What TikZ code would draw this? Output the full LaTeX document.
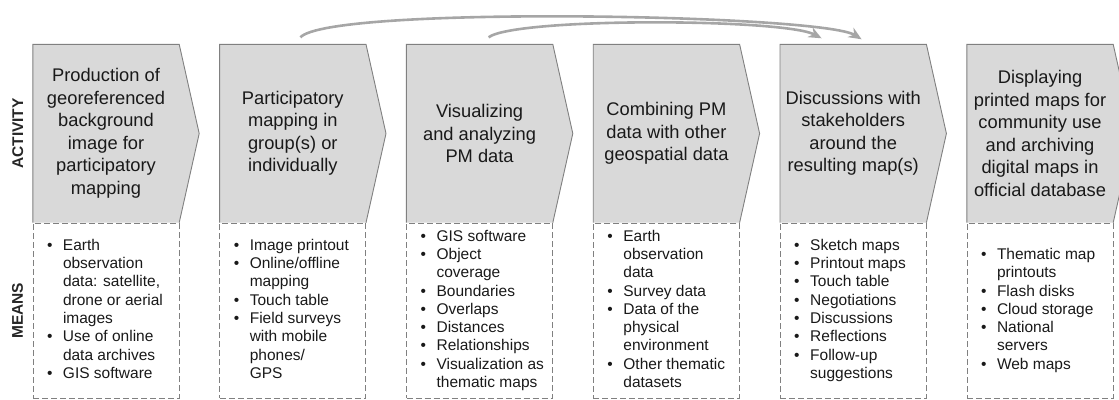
\documentclass[tikz,border=0pt]{standalone}
\usepackage{fontspec}
\setmainfont{Liberation Sans}
\usetikzlibrary{positioning,arrows.meta}

\pgfdeclarelayer{background}
\pgfsetlayers{background,main}

\definecolor{boxgray}{HTML}{D9D9D9}
\definecolor{edgegray}{HTML}{808080}
\definecolor{linkgray}{HTML}{A6A6A6}

\newcommand{\bul}{\textbullet &}
\newcommand{\meanslist}[1]{\begin{tabular}{@{\hspace{14pt}}p{16pt}@{}p{116pt}@{}}#1\end{tabular}}

\begin{document}
\begin{tikzpicture}[x=1pt, y=-1pt,
    actbox/.style={minimum width=146pt, minimum height=178pt, inner sep=0pt,
        align=center, font=\fontsize{18.3}{22.5}\selectfont, text=black!90},
    actshape/.style={draw=edgegray, fill=boxgray, line width=0.9pt},
    meansbox/.style={draw=edgegray, dash pattern=on 6pt off 3pt, line width=0.9pt,
        minimum width=146pt, minimum height=175pt, inner sep=0pt,
        font=\fontsize{15.5}{18.3}\selectfont, text=black!90},
    sidelabel/.style={rotate=90, inner sep=0pt,
        font=\fontsize{15.5}{18}\selectfont\bfseries, text=black!85},
    backlink/.style={draw=linkgray, line width=2.6pt,
        -{Stealth[length=13pt,width=11pt]}}]

\useasboundingbox (0,0) rectangle (1119,399);

% activities
\node[actbox] (act1) at (106,133.5) {Production of\\georeferenced\\background\\image for\\participatory\\mapping};
\node[actbox, right=40.4pt of act1] (act2) {Participatory\\mapping in\\group(s) or\\individually};
\node[actbox, right=40.4pt of act2] (act3) {Visualizing\\and analyzing\\PM data};
\node[actbox, right=40.4pt of act3] (act4) {Combining PM\\data with other\\geospatial data};
\node[actbox, right=40.4pt of act4] (act5) {Discussions with\\stakeholders\\around the\\resulting map(s)};
\node[actbox, right=40.4pt of act5] (act6) {Displaying\\printed maps for\\community use\\and archiving\\digital maps in\\official database};

\begin{pgfonlayer}{background}
\draw[actshape] (act1.south west) -- (act1.north west) -- (act1.north east) -- ([xshift=20pt]act1.east) -- (act1.south east);
\draw[actshape] (act2.south west) -- (act2.north west) -- (act2.north east) -- ([xshift=20pt]act2.east) -- (act2.south east);
\draw[actshape] (act3.south west) -- (act3.north west) -- (act3.north east) -- ([xshift=20pt]act3.east) -- (act3.south east);
\draw[actshape] (act4.south west) -- (act4.north west) -- (act4.north east) -- ([xshift=20pt]act4.east) -- (act4.south east);
\draw[actshape] (act5.south west) -- (act5.north west) -- (act5.north east) -- ([xshift=20pt]act5.east) -- (act5.south east);
\draw[actshape] (act6.south west) -- (act6.north west) -- (act6.north east) -- ([xshift=20pt]act6.east) -- (act6.south east);
\end{pgfonlayer}

% means
\node[meansbox, below=0pt of act1] (means1) {\meanslist{
    \bul Earth\\ & observation\\ & data: satellite,\\ & drone or aerial\\ & images\\
    \bul Use of online\\ & data archives\\
    \bul GIS software}};
\node[meansbox, below=0pt of act2] (means2) {\meanslist{
    \bul Image printout\\
    \bul Online/offline\\ & mapping\\
    \bul Touch table\\
    \bul Field surveys\\ & with mobile\\ & phones/\\ & GPS}};
\node[meansbox, below=0pt of act3] (means3) {\meanslist{
    \bul GIS software\\
    \bul Object\\ & coverage\\
    \bul Boundaries\\
    \bul Overlaps\\
    \bul Distances\\
    \bul Relationships\\
    \bul Visualization as\\ & thematic maps}};
\node[meansbox, below=0pt of act4] (means4) {\meanslist{
    \bul Earth\\ & observation\\ & data\\
    \bul Survey data\\
    \bul Data of the\\ & physical\\ & environment\\
    \bul Other thematic\\ & datasets}};
\node[meansbox, below=0pt of act5] (means5) {\meanslist{
    \bul Sketch maps\\
    \bul Printout maps\\
    \bul Touch table\\
    \bul Negotiations\\
    \bul Discussions\\
    \bul Reflections\\
    \bul Follow-up\\ & suggestions}};
\node[meansbox, below=0pt of act6] (means6) {\meanslist{
    \bul Thematic map\\ & printouts\\
    \bul Flash disks\\
    \bul Cloud storage\\
    \bul National\\ & servers\\
    \bul Web maps}};

% row labels
\node[sidelabel] (lblact) at ([xshift=-15pt]act1.west) {ACTIVITY};
\node[sidelabel] (lblmeans) at ([xshift=-15pt]means1.west) {MEANS};

% links back to the discussions
\draw[backlink] ([xshift=7.6pt,yshift=7pt]act2.north) .. controls +(30pt,32pt) and +(-40pt,25pt) .. ([xshift=8.4pt,yshift=5pt]act5.north);
\draw[backlink] ([xshift=9pt,yshift=7pt]act3.north) .. controls +(27pt,20pt) and +(-38pt,20pt) .. ([xshift=-31.6pt,yshift=6pt]act5.north);

\end{tikzpicture}
\end{document}
